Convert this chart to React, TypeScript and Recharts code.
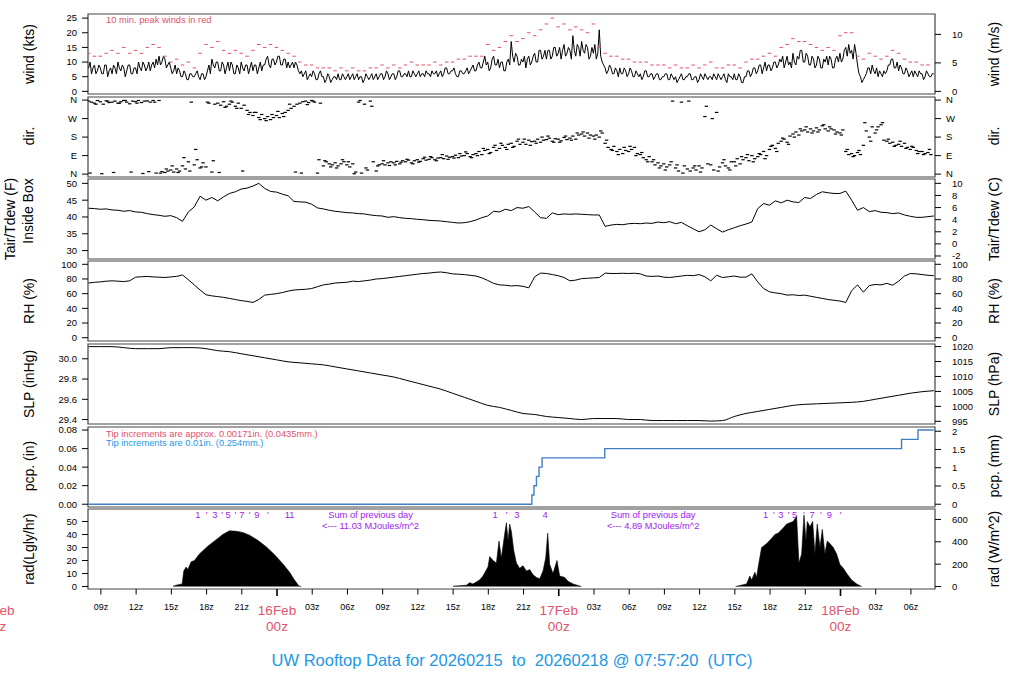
import React from "react";
import { Area, ComposedChart, Line, ReferenceArea, Scatter, XAxis, YAxis } from "recharts";

const FONT = '"Liberation Sans", Arial, Helvetica, sans-serif';
const RED = "#DF536B";
const BLUE = "#2297E6";
const PURPLE = "#A020F0";

// hours from 16Feb 00z
const START_H = -16.05;
const X_DOMAIN: [number, number] = [-16.1, 56.05];

// wind speed (kts), every 7.5 min, one row per hour
const windKts = [
  8, 10, 6, 8, 9, 6, 7, 9,
  8, 6, 6, 9, 9, 5, 7, 8,
  6, 9, 8, 6, 10, 8, 7, 9,
  8, 5, 7, 9, 9, 6, 6, 8,
  8, 6, 10, 8, 7, 10, 9, 7,
  8, 10, 7, 9, 10, 8, 11, 9,
  12, 9, 10, 12, 11, 8, 9, 10,
  8, 6, 7, 9, 6, 8, 7, 5,
  5, 7, 6, 4, 4, 6, 6, 5,
  5, 6, 7, 5, 4, 6, 6, 4,
  5, 7, 9, 6, 11, 9, 8, 10,
  10, 7, 7, 10, 9, 6, 8, 10,
  7, 10, 9, 6, 6, 9, 8, 6,
  10, 8, 7, 9, 9, 6, 8, 10,
  7, 9, 9, 6, 8, 10, 7, 9,
  9, 11, 12, 9, 8, 11, 11, 9,
  10, 12, 12, 9, 9, 11, 11, 8,
  10, 8, 9, 10, 8, 10, 9, 7,
  6, 7, 5, 6, 7, 4, 5, 6,
  5, 7, 6, 4, 4, 6, 7, 5,
  5, 3, 4, 6, 5, 3, 4, 5,
  5, 4, 6, 4, 4, 6, 5, 4,
  5, 6, 4, 5, 6, 4, 5, 6,
  4, 5, 5, 3, 4, 6, 5, 4,
  5, 6, 4, 5, 6, 4, 5, 6,
  6, 4, 5, 7, 6, 4, 5, 6,
  6, 4, 5, 7, 7, 5, 5, 6,
  6, 5, 7, 5, 5, 7, 6, 5,
  6, 7, 5, 6, 6, 5, 7, 6,
  6, 5, 7, 6, 6, 7, 5, 6,
  7, 5, 6, 8, 8, 6, 6, 7,
  7, 8, 6, 5, 5, 7, 7, 6,
  6, 7, 8, 6, 7, 8, 9, 7,
  7, 9, 10, 8, 8, 10, 12, 9,
  10, 7, 8, 11, 12, 9, 9, 11,
  8, 10, 10, 7, 7, 10, 11, 9,
  17, 12, 10, 13, 12, 9, 9, 11,
  10, 12, 8, 11, 12, 9, 10, 12,
  13, 10, 10, 14, 14, 11, 12, 14,
  11, 14, 14, 11, 12, 15, 15, 12,
  13, 15, 11, 14, 16, 12, 13, 15,
  14, 11, 19, 14, 12, 16, 15, 12,
  17, 14, 13, 16, 15, 11, 12, 15,
  13, 16, 11, 13, 21, 12, 10, 9,
  8, 6, 7, 9, 8, 6, 6, 8,
  7, 5, 8, 6, 6, 8, 7, 5,
  6, 8, 7, 5, 5, 7, 6, 5,
  6, 4, 5, 7, 7, 5, 5, 6,
  6, 4, 5, 6, 6, 4, 4, 5,
  5, 6, 6, 4, 4, 6, 5, 4,
  5, 3, 4, 5, 6, 4, 4, 5,
  5, 6, 6, 4, 4, 5, 5, 3,
  4, 6, 5, 4, 6, 5, 4, 5,
  5, 4, 6, 5, 4, 6, 5, 4,
  5, 6, 4, 3, 6, 5, 5, 4,
  6, 4, 4, 6, 5, 3, 3, 5,
  5, 7, 7, 5, 6, 8, 8, 6,
  7, 9, 9, 6, 8, 10, 7, 9,
  9, 7, 8, 10, 10, 8, 9, 11,
  10, 12, 8, 10, 12, 9, 10, 8,
  13, 10, 9, 12, 11, 14, 14, 10,
  10, 13, 12, 9, 9, 12, 11, 8,
  9, 12, 11, 8, 8, 11, 10, 12,
  9, 12, 11, 8, 8, 11, 12, 10,
  13, 10, 11, 14, 15, 12, 16, 13,
  14, 11, 16, 13, 9, 6, 5, 3,
  4, 5, 6, 8, 8, 6, 9, 7,
  6, 8, 5, 7, 6, 5, 7, 6,
  7, 9, 9, 11, 11, 8, 8, 10,
  7, 9, 8, 6, 6, 8, 7, 5,
  6, 7, 5, 7, 6, 5, 7, 6,
  6, 4, 5, 7, 6, 5, 5, 6,
  6,
];

// 10 min peak winds (kts), every 30 min
const gustKts = [
  13, 12, 12, 13, 14, 13, 15, 13, 14, 13, 15, 16, 15, 12, 10, 11, 9, 10, 8, 13, 16, 15, 17, 14,
  13, 14, 13, 12, 14, 16, 15, 16, 15, 14, 13, 12, 10, 9, 9, 8, 8, 8, 7, 8, 7, 8, 7, 7,
  8, 8, 9, 8, 9, 8, 9, 10, 9, 9, 9, 10, 9, 10, 10, 11, 11, 12, 12, 12, 16, 14, 15, 17,
  19, 17, 18, 20, 19, 21, 23, 25, 22, 23, 21, 22, 21, 20, 23, 15, 13, 12, 12, 11, 11, 10, 10, 10,
  9, 9, 9, 8, 9, 8, 8, 9, 8, 9, 10, 8, 8, 9, 9, 8, 10, 11, 11, 12, 13, 12, 15, 16,
  18, 17, 17, 16, 15, 14, 15, 14, 19, 20, 20, 12, 11, 13, 12, 11, 12, 14, 13, 11, 10, 10, 9, 9,
];

// wind direction (deg), every 15 min
const dirDeg = [
  355, 350, 345, 358, 352, 340, 356, 348, 350, 355, 345, 352, 358, 350, 342, 355,
  352, 358, 348, 355, 356, 350, 358, 5, 358, 12, 8, 15, 20, 10, 25, 15,
  40, 25, 60, 350, 45, 70, 30, 55, 35, 345, 10, 340, 345, 335, 352, 330,
  340, 350, 330, 345, 320, 335, 310, 300, 285, 300, 275, 290, 270, 280, 265, 275,
  285, 275, 295, 300, 310, 320, 330, 340, 345, 352, 355, 348, 358, 350, 5, 345,
  40, 60, 50, 45, 55, 40, 50, 60, 45, 35, 50, 10, 350, 5, 340, 20,
  355, 60, 15, 45, 50, 45, 55, 60, 55, 62, 50, 65, 60, 68, 55, 65,
  70, 62, 75, 68, 72, 80, 70, 78, 80, 75, 88, 82, 85, 92, 80, 88,
  90, 100, 85, 95, 100, 110, 95, 115, 120, 105, 130, 115, 125, 140, 130, 145,
  150, 135, 160, 145, 155, 145, 165, 158, 160, 170, 155, 165, 168, 175, 160, 172,
  170, 162, 178, 168, 175, 185, 170, 190, 195, 185, 200, 190, 185, 190, 180, 200,
  150, 130, 120, 135, 110, 120, 100, 115, 110, 120, 130, 100, 95, 80, 70, 85,
  60, 45, 55, 40, 50, 35, 45, 355, 30, 15, 350, 40, 25, 15, 30, 20,
  40, 30, 280, 50, 45, 20, 300, 35, 55, 40, 30, 60, 60, 75, 50, 70,
  80, 65, 90, 75, 85, 95, 110, 90, 120, 140, 125, 150, 160, 170, 155, 185,
  195, 205, 190, 210, 215, 205, 220, 210, 225, 215, 235, 220, 210, 220, 215, 205,
  200, 215, 110, 95, 100, 90, 105, 95, 140, 210, 180, 230, 200, 230, 240, 165,
  160, 150, 155, 140, 145, 135, 150, 130, 120, 130, 115, 110, 110, 100, 105, 95,
];

// extra direction samples between the above, every 30 min (offset 7.5 min)
const dirDegB = [
  5, 340, 2, 355, 8, 345, 358, 10, 345, 3, 12, 350, 5, 25, 40, 8,
  80, 15, 120, 35, 350, 65, 8, 325, 355, 320, 15, 290, 300, 265, 260, 290,
  305, 280, 340, 10, 5, 338, 355, 70, 65, 35, 30, 70, 60, 2, 358, 30,
  330, 40, 65, 42, 45, 58, 72, 50, 58, 82, 85, 65, 95, 72, 78, 100,
  108, 80, 90, 125, 100, 140, 150, 120, 130, 170, 170, 140, 150, 180, 185, 155,
  155, 185, 165, 200, 205, 175, 170, 210, 165, 115, 95, 130, 135, 90, 105, 60,
  70, 30, 20, 60, 45, 5, 355, 40, 10, 330, 270, 15, 70, 20, 40, 85,
  95, 60, 100, 75, 135, 110, 175, 145, 180, 220, 230, 200, 205, 240, 230, 195,
  190, 120, 85, 115, 250, 160, 215, 250, 170, 135, 160, 125, 135, 100, 95, 120,
];

// air temperature inside box (F), every 30 min
const tempF = [
  42.6, 42.5, 42.3, 42.4, 42.1, 42.0, 41.7, 41.9, 41.5, 41.4, 41.0, 40.7, 40.5, 40.2, 40.4, 39.8,
  38.7, 41.5, 43.0, 46.2, 45.0, 45.8, 44.8, 46.0, 47.0, 47.5, 48.3, 48.6, 49.2, 50.0, 48.5, 47.6,
  47.4, 46.8, 46.3, 44.6, 44.5, 44.4, 43.8, 42.7, 42.4, 42.0, 41.7, 41.5, 41.3, 41.2, 41.0, 40.9,
  40.6, 40.4, 40.3, 39.9, 40.1, 39.8, 39.6, 39.5, 39.3, 39.2, 39.0, 38.9, 38.8, 38.6, 38.4, 38.2,
  38.3, 38.6, 39.1, 39.8, 40.3, 41.7, 41.5, 42.3, 41.9, 42.8, 42.6, 43.1, 41.5, 39.8, 39.6, 41.2,
  40.7, 40.9, 40.8, 40.9, 40.8, 40.7, 40.6, 40.6, 37.2, 37.6, 37.8, 37.7, 38.0, 38.1, 38.0, 38.2,
  38.1, 38.5, 38.3, 38.6, 38.0, 38.4, 37.4, 36.5, 35.6, 36.2, 37.6, 36.5, 35.5, 36.2, 36.8, 37.4,
  37.9, 38.5, 42.5, 44.0, 43.5, 44.8, 44.2, 45.0, 44.5, 44.3, 45.8, 45.5, 46.7, 47.5, 47.2, 47.0,
  47.0, 47.7, 45.0, 42.0, 42.8, 41.6, 41.9, 41.4, 41.3, 41.0, 41.2, 40.6, 40.2, 39.9, 39.9, 40.1,
  40.3,
];

// relative humidity (%), every 30 min
const rhPct = [
  74.5, 75.5, 76.0, 77.0, 77.5, 77.0, 76.5, 77.5, 82.5, 83.0, 83.5, 82.8, 82.5, 82.0, 82.8, 83.5,
  85.5, 79.0, 72.0, 65.0, 58.5, 57.0, 56.0, 55.0, 53.5, 52.0, 50.5, 49.5, 48.0, 52.0, 58.0, 59.0,
  60.0, 61.5, 63.5, 65.0, 65.5, 66.0, 67.0, 69.5, 72.0, 73.0, 74.5, 75.0, 75.5, 77.0, 76.5, 77.5,
  78.5, 80.0, 80.5, 81.5, 82.5, 83.5, 84.5, 85.5, 86.5, 87.5, 88.0, 89.0, 89.5, 88.5, 87.0, 86.5,
  86.0, 85.0, 84.0, 81.5, 78.0, 74.0, 72.0, 71.5, 70.5, 71.0, 70.0, 68.0, 83.0, 88.0, 87.5, 86.0,
  84.5, 82.0, 77.5, 78.5, 80.5, 81.0, 81.5, 82.0, 88.0, 87.5, 87.5, 87.8, 87.5, 87.8, 87.0, 84.0,
  83.5, 84.0, 82.5, 82.0, 83.0, 84.0, 85.0, 84.5, 86.0, 83.0, 77.5, 85.0, 82.0, 83.0, 84.0, 82.5,
  82.5, 87.0, 76.0, 67.0, 62.5, 61.0, 60.0, 58.0, 58.5, 57.5, 58.0, 56.5, 55.0, 53.5, 52.0, 51.0,
  50.0, 48.0, 64.0, 72.0, 62.0, 71.0, 72.5, 72.0, 74.0, 71.5, 77.0, 84.0, 87.5, 87.0, 86.0, 85.0,
  84.5,
];

// sea level pressure (inHg), hourly
const slpInHg = [
  30.12, 30.12, 30.12, 30.11, 30.1, 30.1, 30.1, 30.11, 30.11, 30.11, 30.1, 30.08, 30.07, 30.05, 30.03, 30.01,
  29.99, 29.97, 29.96, 29.95, 29.94, 29.92, 29.9, 29.88, 29.86, 29.84, 29.82, 29.79, 29.76, 29.73, 29.7, 29.66,
  29.62, 29.58, 29.54, 29.52, 29.49, 29.46, 29.45, 29.43, 29.42, 29.41, 29.4, 29.41, 29.41, 29.41, 29.4, 29.4,
  29.39, 29.39, 29.39, 29.39, 29.39, 29.385, 29.39, 29.43, 29.46, 29.48, 29.5, 29.52, 29.54, 29.55, 29.555, 29.56,
  29.565, 29.57, 29.58, 29.6, 29.62, 29.64, 29.66, 29.675, 29.685,
];

// accumulated precipitation (in): [hour, total]
const pcpSteps = [
  [-16.05, 0], [21.71, 0.01], [21.89, 0.02], [22.1, 0.03], [22.32, 0.04], [22.58, 0.05],
  [27.92, 0.06], [53.2, 0.07], [54.6, 0.08], [55.95, 0.08],
];

// solar radiation (Langley/hr): [hour, value]
const radDay1 = [
  [-8.85, 0.3], [-8.6, 1], [-8.08, 2], [-7.94, 12], [-7.74, 15], [-7.6, 13], [-7.31, 19], [-7.03, 20],
  [-6.61, 25], [-5.9, 31], [-5.18, 36], [-4.62, 40], [-4.05, 42.8], [-3.48, 42.5], [-2.92, 41.5],
  [-2.34, 39.5], [-1.64, 35.5], [-0.92, 30.5], [-0.21, 24.5], [0.49, 17.5], [1.07, 11], [1.49, 5],
  [1.86, 0.5], [2.06, 0],
];
const radDay2 = [
  [14.99, 0.3], [16.13, 1], [16.41, 3], [16.69, 2], [17.26, 5], [17.54, 8], [17.97, 15], [18.12, 23],
  [18.4, 20], [18.69, 18], [18.91, 35], [19.11, 22], [19.39, 40], [19.54, 49], [19.68, 35], [19.82, 48],
  [19.97, 42], [20.16, 28], [20.39, 18], [20.67, 14], [20.95, 16], [21.24, 12], [21.53, 13], [21.81, 9],
  [22.1, 7], [22.38, 6], [22.66, 12], [22.89, 22], [23.06, 41], [23.23, 17], [23.51, 10], [23.85, 20],
  [24.08, 8], [24.51, 7], [24.79, 4], [25.22, 2], [25.93, 0],
];
const radDay3 = [
  [39.06, 0], [40.0, 2], [40.28, 8], [40.43, 5], [40.71, 11], [40.85, 7], [40.99, 15], [41.28, 30],
  [41.71, 33], [42.13, 37], [42.41, 40], [42.69, 41], [43.12, 45], [43.41, 48], [43.69, 49], [43.97, 50],
  [44.26, 54], [44.46, 18], [44.69, 25], [44.89, 55], [45.06, 35], [45.17, 50], [45.4, 46], [45.63, 50],
  [45.82, 25], [46.02, 48], [46.25, 30], [46.45, 44], [46.67, 25], [46.87, 35], [47.1, 33], [47.38, 30],
  [47.67, 25], [47.95, 17], [48.24, 14], [48.53, 10], [48.95, 5], [49.38, 2], [49.8, 0],
];

// local-hour markers and daily sums above the radiation trace: [hour, text]
const radMarks: [number, string][] = [
  [-6.75, "1"], [-5.99, "'"], [-5.3, "3"], [-4.68, "'"], [-4.17, "5"], [-3.54, "'"], [-3.0, "7"],
  [-2.34, "'"], [-1.72, "9"], [-0.78, "'"], [1.07, "11"],
  [18.57, "1"], [19.57, "'"], [20.44, "3"], [22.83, "4"],
  [41.62, "1"], [42.33, "'"], [42.92, "3"], [43.58, "'"], [44.09, "5"], [44.89, "'"], [45.59, "7"],
  [46.33, "'"], [47.04, "9"], [48.01, "'"],
];
const radSums: [number, string][] = [
  [7.97, "11.03"],
  [32.04, "4.89"],
];

const timeTicks = [-24, -15, -12, -9, -6, -3, 0, 3, 6, 9, 12, 15, 18, 21, 24, 27, 30, 33, 36, 39, 42, 45, 48, 51, 54];
const timeTickLabels = [
  "15Feb|00z", "09z", "12z", "15z", "18z", "21z", "16Feb|00z", "03z", "06z", "09z", "12z", "15z", "18z",
  "21z", "17Feb|00z", "03z", "06z", "09z", "12z", "15z", "18z", "21z", "18Feb|00z", "03z", "06z",
];

const dirTicks = [0, 90, 180, 270, 360];
const dirTickLabels = ["N", "E", "S", "W", "N"];

const series = (vals: number[], step: number, shift = 0) =>
  vals.map((v, i) => ({ h: START_H + shift + i * step, v }));
const pairs = (p: number[][]) => p.map(([h, v]) => ({ h, v }));

const windData = series(windKts, 0.125);
const gustData = series(gustKts, 0.5);
const dirData = series(dirDeg, 0.25);
const dirDataB = series(dirDegB, 0.5, 0.125);
const tempData = series(tempF, 0.5);
const rhData = series(rhPct, 0.5);
const slpData = series(slpInHg, 1);
const pcpData = pairs(pcpSteps);
const markData = radMarks.map(([h, t]) => ({ h, v: 55.2, t }));
const sumData = [
  ...radSums.map(([h]) => ({ h, v: 55.2, t: "Sum of previous day" })),
  ...radSums.map(([h, s]) => ({ h, v: 46.7, t: `<--- ${s} MJoules/m^2` })),
];

const PLOT_H = 80;

type AxisSpec = {
  domain: [number, number];
  ticks: number[];
  fmt?: (v: number) => string;
  margin?: number;
};

const dash = (w: number, hgt: number, color: string) => (p: any) =>
  <rect x={p.cx - w / 2} y={p.cy - hgt / 2} width={w} height={hgt} fill={color} />;

const note = (color: string, anchor: "start" | "middle") => (p: any) => (
  <text x={p.cx} y={p.cy} dy="0.35em" textAnchor={anchor} fill={p.payload.c || color} fontSize={9.3} fontFamily={FONT}>
    {p.payload.t}
  </text>
);

function TimeTick(props: any) {
  const { x, y, payload } = props;
  const label = timeTickLabels[timeTicks.indexOf(payload.value)] || "";
  const [top, bottom] = label.split("|");
  if (bottom) {
    return (
      <g>
        <line x1={x} x2={x} y1={y} y2={y + 7} stroke="#000" strokeWidth={1.6} />
        <text x={x} y={y + 26} textAnchor="middle" fill={RED} fontSize={13.5} fontFamily={FONT}>{top}</text>
        <text x={x} y={y + 42} textAnchor="middle" fill={RED} fontSize={13.5} fontFamily={FONT}>{bottom}</text>
      </g>
    );
  }
  return (
    <g>
      <line x1={x} x2={x} y1={y} y2={y + 5.5} stroke="#000" strokeWidth={1} />
      <text x={x} y={y + 20.5} textAnchor="middle" fill="#000" fontSize={9} fontFamily={FONT}>{top}</text>
    </g>
  );
}

function Panel({
  top,
  left,
  right,
  bottomAxis = false,
  children,
}: {
  top: number;
  left: AxisSpec;
  right: AxisSpec;
  bottomAxis?: boolean;
  children: React.ReactNode;
}) {
  const tickStyle = { fontSize: 9.5, fill: "#000", fontFamily: FONT };
  return (
    <div style={{ position: "absolute", left: 0, top: top - 2 }}>
      <ComposedChart
        width={1024}
        height={PLOT_H + 4 + (bottomAxis ? 60 : 0)}
        margin={{ top: 2, right: 29, bottom: 2, left: 28 }}
      >
        <XAxis
          type="number"
          dataKey="h"
          domain={X_DOMAIN}
          allowDataOverflow
          hide={!bottomAxis}
          ticks={timeTicks}
          interval={0}
          tick={(p: any) => <TimeTick {...p} />}
          tickLine={false}
          axisLine={false}
          tickSize={0}
          tickMargin={0}
          height={60}
        />
        <YAxis
          yAxisId="l"
          type="number"
          width={60}
          domain={left.domain}
          allowDataOverflow
          ticks={left.ticks}
          interval={0}
          tickFormatter={left.fmt || ((v: number) => String(v))}
          tick={tickStyle}
          tickLine={{ stroke: "#000" }}
          tickSize={6}
          tickMargin={left.margin ?? 5}
          axisLine={false}
        />
        <YAxis
          yAxisId="r"
          orientation="right"
          type="number"
          width={60}
          domain={right.domain}
          allowDataOverflow
          ticks={right.ticks}
          interval={0}
          tickFormatter={right.fmt || ((v: number) => String(v))}
          tick={{ ...tickStyle, textAnchor: "start" }}
          tickLine={{ stroke: "#000" }}
          tickSize={6}
          tickMargin={right.margin ?? 11}
          axisLine={false}
        />
        <ReferenceArea
          yAxisId="l"
          x1={X_DOMAIN[0]}
          x2={X_DOMAIN[1]}
          y1={left.domain[0]}
          y2={left.domain[1]}
          fill="none"
          stroke="#444"
          strokeWidth={1.2}
          ifOverflow="visible"
        />
        {children}
      </ComposedChart>
    </div>
  );
}

function SideLabel({ x, y, text }: { x: number; y: number; text: string }) {
  return (
    <div
      style={{
        position: "absolute",
        left: x,
        top: y,
        transform: "translate(-50%, -50%) rotate(-90deg)",
        whiteSpace: "nowrap",
        fontSize: 14,
        lineHeight: "16px",
        fontFamily: FONT,
        color: "#000",
      }}
    >
      {text}
    </div>
  );
}

const dirFmt = (v: number) => dirTickLabels[dirTicks.indexOf(v)] || "";

export default function App() {
  return (
    <div
      style={{
        position: "absolute",
        left: 0,
        top: 0,
        width: 1024,
        height: 700,
        background: "#fff",
        overflow: "hidden",
        fontFamily: FONT,
      }}
    >
      <Panel
        top={13.7}
        left={{ domain: [-0.9, 26.4], ticks: [0, 5, 10, 15, 20, 25] }}
        right={{ domain: [-0.463, 13.58], ticks: [0, 5, 10] }}
      >
        <Scatter yAxisId="l" data={gustData} dataKey="v" shape={dash(3.5, 1, RED)} isAnimationActive={false} />
        <Line yAxisId="l" data={windData} dataKey="v" type="linear" stroke="#000" strokeWidth={1} dot={false} isAnimationActive={false} />
        <Scatter
          yAxisId="l"
          data={[{ h: -14.56, v: 24.45, t: "10 min. peak winds in red" }]}
          dataKey="v"
          shape={note(RED, "start")}
          isAnimationActive={false}
        />
      </Panel>

      <Panel
        top={96.5}
        left={{ domain: [-14, 375], ticks: dirTicks, fmt: dirFmt }}
        right={{ domain: [-14, 375], ticks: dirTicks, fmt: dirFmt, margin: 5 }}
      >
        <Scatter yAxisId="l" data={dirData} dataKey="v" shape={dash(3.4, 1.2, "#000")} isAnimationActive={false} />
        <Scatter yAxisId="l" data={dirDataB} dataKey="v" shape={dash(3.4, 1.2, "#000")} isAnimationActive={false} />
      </Panel>

      <Panel
        top={178.5}
        left={{ domain: [27.5, 51.3], ticks: [30, 35, 40, 45, 50] }}
        right={{ domain: [-2.5, 10.72], ticks: [-2, 0, 2, 4, 6, 8, 10] }}
      >
        <Line yAxisId="l" data={tempData} dataKey="v" type="linear" stroke="#000" strokeWidth={1} dot={false} isAnimationActive={false} />
      </Panel>

      <Panel
        top={261.2}
        left={{ domain: [-4.5, 104.5], ticks: [0, 20, 40, 60, 80, 100] }}
        right={{ domain: [-4.5, 104.5], ticks: [0, 20, 40, 60, 80, 100] }}
      >
        <Line yAxisId="l" data={rhData} dataKey="v" type="linear" stroke="#000" strokeWidth={1} dot={false} isAnimationActive={false} />
      </Panel>

      <Panel
        top={344}
        left={{ domain: [29.356, 30.146], ticks: [29.4, 29.6, 29.8, 30.0], fmt: (v) => v.toFixed(1) }}
        right={{ domain: [994.1, 1020.86], ticks: [995, 1000, 1005, 1010, 1015, 1020] }}
      >
        <Line yAxisId="l" data={slpData} dataKey="v" type="monotone" stroke="#000" strokeWidth={1} dot={false} isAnimationActive={false} />
      </Panel>

      <Panel
        top={426.7}
        left={{ domain: [-0.003, 0.0833], ticks: [0, 0.02, 0.04, 0.06, 0.08], fmt: (v) => v.toFixed(2) }}
        right={{ domain: [-0.0762, 2.116], ticks: [0, 0.5, 1, 1.5, 2] }}
      >
        <Line yAxisId="l" data={pcpData} dataKey="v" type="stepAfter" stroke="#3F7FC6" strokeWidth={1.4} dot={false} isAnimationActive={false} />
        <Scatter
          yAxisId="l"
          data={[
            { h: -14.56, v: 0.0764, t: "Tip increments are approx. 0.00171in. (0.0435mm.)", c: RED },
            { h: -14.56, v: 0.0666, t: "Tip increments are 0.01in. (0.254mm.)", c: BLUE },
          ]}
          dataKey="v"
          shape={note(RED, "start")}
          isAnimationActive={false}
        />
      </Panel>

      <Panel
        top={509.3}
        bottomAxis
        left={{ domain: [-1.9, 59.6], ticks: [0, 10, 20, 30, 40, 50] }}
        right={{ domain: [-22.1, 693.1], ticks: [0, 200, 400, 600] }}
      >
        <Area yAxisId="l" data={pairs(radDay1)} dataKey="v" type="linear" baseValue={0} stroke="#000" strokeWidth={0.6} fill="#000" fillOpacity={1} isAnimationActive={false} />
        <Area yAxisId="l" data={pairs(radDay2)} dataKey="v" type="linear" baseValue={0} stroke="#000" strokeWidth={0.6} fill="#000" fillOpacity={1} isAnimationActive={false} />
        <Area yAxisId="l" data={pairs(radDay3)} dataKey="v" type="linear" baseValue={0} stroke="#000" strokeWidth={0.6} fill="#000" fillOpacity={1} isAnimationActive={false} />
        <Scatter yAxisId="l" data={markData} dataKey="v" shape={note(PURPLE, "middle")} isAnimationActive={false} />
        <Scatter yAxisId="l" data={sumData} dataKey="v" shape={note(PURPLE, "middle")} isAnimationActive={false} />
      </Panel>

      <SideLabel x={29} y={53.5} text="wind (kts)" />
      <SideLabel x={28.5} y={136} text="dir." />
      <SideLabel x={9.5} y={219} text="Tair/Tdew (F)" />
      <SideLabel x={28} y={211} text="Inside Box" />
      <SideLabel x={28.5} y={301} text="RH (%)" />
      <SideLabel x={28.5} y={384} text="SLP (inHg)" />
      <SideLabel x={28.5} y={466} text="pcp. (in)" />
      <SideLabel x={28.5} y={549} text="rad(Lgly/hr)" />

      <SideLabel x={994} y={53.5} text="wind (m/s)" />
      <SideLabel x={994} y={136} text="dir." />
      <SideLabel x={994} y={219} text="Tair/Tdew (C)" />
      <SideLabel x={994} y={301} text="RH (%)" />
      <SideLabel x={994} y={384} text="SLP (hPa)" />
      <SideLabel x={994} y={466} text="pcp. (mm)" />
      <SideLabel x={994} y={549} text="rad (W/m^2)" />

      <div
        style={{
          position: "absolute",
          left: 0,
          top: 650,
          width: 1024,
          textAlign: "center",
          whiteSpace: "pre",
          fontSize: 16.5,
          lineHeight: "20px",
          color: BLUE,
          fontFamily: FONT,
        }}
      >
        {"UW Rooftop Data for 20260215  to  20260218 @ 07:57:20  (UTC)"}
      </div>
    </div>
  );
}
